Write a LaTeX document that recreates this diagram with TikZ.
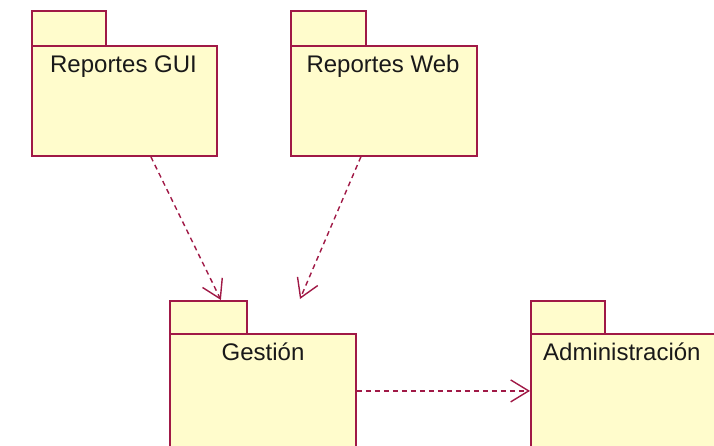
\documentclass[tikz,border=0pt]{standalone}
\usepackage{fontspec}
\setmainfont{Liberation Sans}
\usetikzlibrary{arrows.meta,calc}
\definecolor{pkgline}{RGB}{160,25,70}
\definecolor{pkgfill}{RGB}{255,252,204}
\definecolor{txt}{RGB}{25,25,25}
\tikzset{
  pkgbox/.style={draw=pkgline,fill=pkgfill,line width=1.8pt,rectangle,inner sep=0pt,anchor=north west},
  pkglabel/.style={text=txt,inner sep=0pt,font=\fontsize{24}{28}\selectfont},
  dep/.style={draw=pkgline,line width=1.4pt,dash pattern=on 5pt off 4pt,-{Straight Barb[length=18pt,width=22pt,line width=1.4pt]}}
}
\begin{document}
\begin{tikzpicture}[x=1pt,y=-1pt]
\clip (0,0) rectangle (714,445);
\fill[white] (0,0) rectangle (714,445);
% Reportes GUI
\node[pkgbox,minimum width=74pt,minimum height=35pt] (guitab) at (31,10) {};
\node[pkgbox,minimum width=185pt,minimum height=110pt] (gui) at (31,45) {};
\node[pkglabel,anchor=base] (guitxt) at (123.5,72) {Reportes GUI};
% Reportes Web
\node[pkgbox,minimum width=75pt,minimum height=35pt] (webtab) at (290,10) {};
\node[pkgbox,minimum width=186pt,minimum height=110pt] (web) at (290,45) {};
\node[pkglabel,anchor=base] (webtxt) at (383,72) {Reportes Web};
% Gestion
\node[pkgbox,minimum width=77pt,minimum height=33pt] (gesttab) at (169,300) {};
\node[pkgbox,minimum width=186pt,minimum height=114pt] (gest) at (169,333) {};
\node[pkglabel,anchor=base] (gesttxt) at (263,360) {Gestión};
% Administracion
\node[pkgbox,minimum width=74pt,minimum height=33pt] (admtab) at (530,300) {};
\node[pkgbox,minimum width=250pt,minimum height=114pt] (adm) at (530,333) {};
\node[pkglabel,anchor=base west] (admtxt) at (543,360) {Administración};
% dependencies
\coordinate (webend) at (300,299);
\draw[dep] ([xshift=26.5pt]gui.south) -- ([xshift=12.5pt]gesttab.north);
\draw[dep] ([xshift=-23pt]web.south) -- (webend);
\draw[dep] (gest.east) -- (adm.west);
\end{tikzpicture}
\end{document}
